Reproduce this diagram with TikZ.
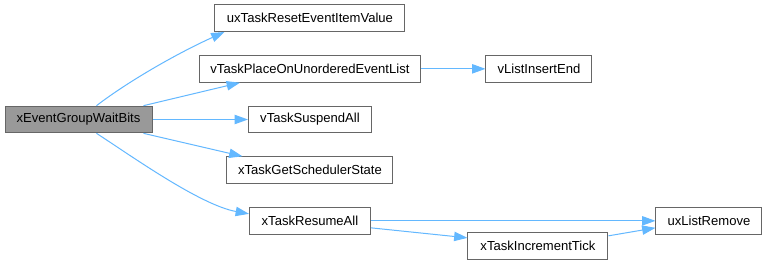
\documentclass[tikz,border=0pt]{standalone}
\usepackage{fontspec}
\setmainfont{Liberation Sans}
\usepackage{tikz}
\usetikzlibrary{calc}
\usetikzlibrary{arrows.meta}
\definecolor{gray40}{HTML}{666666}
\definecolor{grey60}{HTML}{999999}
\definecolor{steelblue1}{HTML}{63B8FF}
\newcommand{\FnWaitBits}{xEventGroupWaitBits}
\newcommand{\FnResetItem}{uxTaskResetEventItemValue}
\newcommand{\FnPlaceList}{vTaskPlaceOnUnorderedEventList}
\newcommand{\FnSuspend}{vTaskSuspendAll}
\newcommand{\FnSchedState}{xTaskGetSchedulerState}
\newcommand{\FnResume}{xTaskResumeAll}
\newcommand{\FnInsertEnd}{vListInsertEnd}
\newcommand{\FnListRemove}{uxListRemove}
\newcommand{\FnIncTick}{xTaskIncrementTick}

\begin{document}
\begin{tikzpicture}[x=0.75pt,y=-0.75pt,node distance=38pt,>={Triangle[length=10pt,width=7pt]},
    fn/.style={draw=gray40,line width=0.75pt,fill=white,minimum height=20pt,
      inner xsep=2pt,inner ysep=0pt,font=\fontsize{9.8pt}{12pt}\selectfont},
    call/.style={->,draw=steelblue1,line width=0.75pt}]

      \path[use as bounding box,fill=white] (0,0) rectangle (767,265);

      \node[fn,fill=grey60,minimum width=110.25pt] (wb) at (78.5,119.5) {\FnWaitBits};
      \node[fn,node distance=173.6pt,minimum width=92.25pt] (sa) [right of=wb] {\FnSuspend};
      \node[fn,minimum width=165.75pt] (pl) [above of=sa] {\FnPlaceList};
      \node[fn,minimum width=142.5pt] (rs) [above of=pl] {\FnResetItem};
      \node[fn,minimum width=124.5pt] (gs) [below of=sa] {\FnSchedState};
      \node[fn,minimum width=90.75pt] (ra) [below of=gs] {\FnResume};
      \node[fn,node distance=171.75pt,minimum width=79.5pt] (li) [right of=pl] {\FnInsertEnd};
      \node[fn,node distance=299.25pt,minimum width=79.5pt] (lr) [right of=ra] {\FnListRemove};
      \node[fn,minimum width=105pt] (it) at ($(ra)+(228,25)$) {\FnIncTick}; % one step lower

      % calls out of wb
      \draw [call] ($(wb.north)+(18,0)$) .. controls (130,80) and (180,52) .. ($(rs.south west)+(10,0)$);
      \draw [call] ($(wb.north east)+(-9,0)$) -- ($(pl.south west)+(41,0)$);
      \draw [call] (wb) -- (sa);
      \draw [call] ($(wb.south east)+(-9,0)$) -- ($(gs.north west)+(16,0)$);
      \draw [call] ($(wb.south)+(18,0)$) .. controls (130,155) and (200,205) .. ($(ra.west)+(0,-7)$);

      \draw [call] (pl) -- (li);
      \draw [call] (ra) -- (lr);
      \draw [call] ($(ra.east)+(0,7)$) -- ($(it.west)+(0,-8)$);
      \draw [call] ($(it.east)+(0,-10)$) -- ($(lr.west)+(0,7)$);
    \end{tikzpicture}
\end{document}
